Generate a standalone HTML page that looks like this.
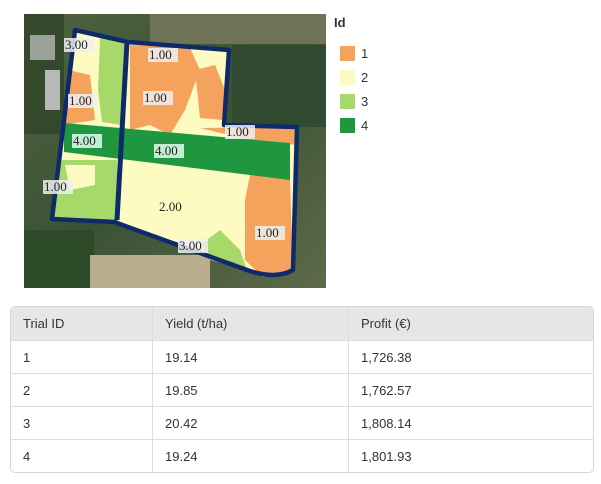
<!DOCTYPE html>
<html><head><meta charset="utf-8"><style>
body{margin:0;width:601px;height:484px;background:#fff;font-family:"Liberation Sans",sans-serif;position:relative;overflow:hidden}
table{position:absolute;left:10px;top:306px;width:584px;border-collapse:separate;border-spacing:0;border:1px solid #d6d6d6;border-radius:5px;font-size:13px;color:#333;overflow:hidden}
td,th{height:32px;padding:0 0 0 12px;text-align:left;font-weight:normal;border-bottom:1px solid #ddd;border-right:1px solid #ddd}
th{background:#e6e6e6;height:33px}
tr:last-child td{border-bottom:none}
td:last-child,th:last-child{border-right:none}
</style></head><body>
<svg width="601" height="300" style="position:absolute;left:0;top:0" font-family="Liberation Serif, serif" font-size="13">
<defs><linearGradient id="bg" x1="0" y1="0" x2="1" y2="1"><stop offset="0" stop-color="#4f6342"/><stop offset="0.5" stop-color="#3a5234"/><stop offset="1" stop-color="#5e6a4a"/></linearGradient></defs>
<rect x="24" y="14" width="302" height="274" fill="url(#bg)"/>
<rect x="150" y="14" width="176" height="30" fill="#6e7455"/>
<rect x="232" y="45" width="94" height="82" fill="#2f4a2e"/>
<rect x="24" y="14" width="40" height="120" fill="#34492c"/>
<rect x="24" y="230" width="70" height="58" fill="#2c4a28"/>
<rect x="90" y="255" width="120" height="33" fill="#b9ad8c"/>
<rect x="30" y="35" width="25" height="25" fill="#9aa19a"/>
<rect x="45" y="70" width="15" height="40" fill="#b8b8b8"/>
<polygon points="75,30 128,42 117,220 52,219" fill="#fdfbc2"/>
<polygon points="100,38 125,42 122,125 102,122 98,90" fill="#a6d96a"/>
<polygon points="68,70 90,75 95,120 64,125" fill="#f5a35c"/>
<polygon points="60,160 117,160 117,220 52,219" fill="#a6d96a"/>
<polygon points="65,165 95,165 95,185 70,190" fill="#fdfbc2"/>
<polygon points="128,42 229,50 224,125 297,127 293,270 263,277 247,270 117,223" fill="#fdfbc2"/>
<polygon points="130,45 190,48 200,70 185,110 170,135 150,125 130,130" fill="#f5a35c"/>
<polygon points="195,70 215,65 225,90 222,120 200,118" fill="#f5a35c"/>
<polygon points="200,128 297,127 297,145 250,140" fill="#f5a35c"/>
<polygon points="250,175 280,175 290,180 293,270 263,277 245,260 245,200" fill="#f5a35c"/>
<polygon points="200,245 220,230 240,250 247,270 210,260" fill="#a6d96a"/>
<polygon points="64,123 290,143 290,180 64,152" fill="#1f9740"/>
<path d="M75,30 L128,42 L229,50 L224,125 L297,127 L293,270 Q275,280 247,270 L117,223 L115,222 L52,219 Z" fill="none" stroke="#0d2b6b" stroke-width="4.5" stroke-linejoin="round"/>
<line x1="127" y1="42" x2="117" y2="220" stroke="#0d2b6b" stroke-width="5"/>
<g fill="#222">
<rect x="64" y="38" width="30" height="14" fill="#eee" opacity=".85"/><text x="65" y="49">3.00</text>
<rect x="148" y="48" width="30" height="14" fill="#eee" opacity=".85"/><text x="149" y="59">1.00</text>
<rect x="68" y="94" width="30" height="14" fill="#eee" opacity=".85"/><text x="69" y="105">1.00</text>
<rect x="143" y="91" width="30" height="14" fill="#eee" opacity=".85"/><text x="144" y="102">1.00</text>
<rect x="225" y="125" width="30" height="14" fill="#eee" opacity=".85"/><text x="226" y="136">1.00</text>
<rect x="72" y="134" width="30" height="14" fill="#dfe" opacity=".85"/><text x="73" y="145">4.00</text>
<rect x="154" y="144" width="30" height="14" fill="#dfe" opacity=".85"/><text x="155" y="155">4.00</text>
<rect x="43" y="180" width="30" height="14" fill="#eee" opacity=".85"/><text x="44" y="191">1.00</text>
<text x="159" y="211">2.00</text>
<rect x="255" y="226" width="30" height="14" fill="#eee" opacity=".85"/><text x="256" y="237">1.00</text>
<rect x="178" y="239" width="30" height="14" fill="#eee" opacity=".85"/><text x="179" y="250">3.00</text>
</g>
<g font-family="Liberation Sans, sans-serif" font-size="13" fill="#333">
<text x="334" y="27" font-weight="bold">Id</text>
<rect x="340" y="46" width="15" height="15" fill="#f5a35c"/><text x="361" y="58">1</text>
<rect x="340" y="70" width="15" height="15" fill="#fdfbc2"/><text x="361" y="82">2</text>
<rect x="340" y="94" width="15" height="15" fill="#a6d96a"/><text x="361" y="106">3</text>
<rect x="340" y="118" width="15" height="15" fill="#1f9740"/><text x="361" y="130">4</text>
</g>
</svg>
<table>
<tr><th style="width:129px">Trial ID</th><th style="width:183px">Yield (t/ha)</th><th>Profit (€)</th></tr>
<tr><td>1</td><td>19.14</td><td>1,726.38</td></tr>
<tr><td>2</td><td>19.85</td><td>1,762.57</td></tr>
<tr><td>3</td><td>20.42</td><td>1,808.14</td></tr>
<tr><td>4</td><td>19.24</td><td>1,801.93</td></tr>
</table>
</body></html>
